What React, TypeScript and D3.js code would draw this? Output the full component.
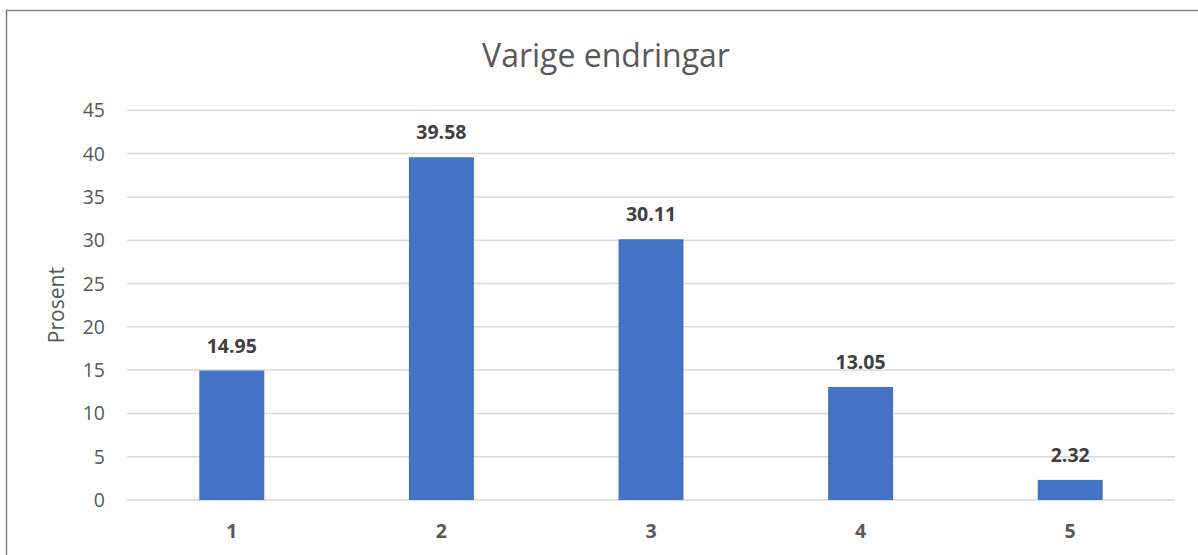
import React from "react";
import * as d3 from "d3";

const categories = ["1", "2", "3", "4", "5"];
const values = [14.95, 39.58, 30.11, 13.05, 2.32];
const yTicks = [0, 5, 10, 15, 20, 25, 30, 35, 40, 45];
const title = "Varige endringar";
const yLabel = "Prosent";

const W = 1198;
const H = 555;
const FONT = "'Open Sans', 'Noto Sans', sans-serif";

export default function App() {
  const left = 127;
  const right = 1175;
  const top = 110.3;
  const bottom = 500;

  const x = d3.scaleBand<string>().domain(categories).range([left, right]).paddingInner(0.69).paddingOuter(0.345);
  const y = d3.scaleLinear().domain([0, 45]).range([bottom, top]);

  return (
    <svg width={W} height={H} style={{ position: "absolute", left: 0, top: 0, background: "#fff" }}>
      <rect x={6.5} y={10.5} width={1250} height={600} fill="#fff" stroke="#808080" strokeWidth={1.5} />
      <text x={606} y={67} textAnchor="middle" fontFamily={FONT} fontSize={32} fill="#595959">
        {title}
      </text>
      {yTicks.map((t) => (
        <g key={t}>
          <line x1={left} x2={right} y1={y(t)} y2={y(t)} stroke="#d9d9d9" strokeWidth={1.5} />
          <text x={105} y={y(t)} dy="0.36em" textAnchor="end" fontFamily={FONT} fontSize={19.5} fill="#595959">
            {t}
          </text>
        </g>
      ))}
      <text
        transform={`translate(64,${(top + bottom) / 2}) rotate(-90)`}
        textAnchor="middle"
        fontFamily={FONT}
        fontSize={21}
        fill="#595959"
      >
        {yLabel}
      </text>
      {categories.map((c, i) => {
        const bx = x(c)!;
        const bw = x.bandwidth();
        return (
          <g key={c}>
            <rect x={bx} y={y(values[i])} width={bw} height={bottom - y(values[i])} fill="#4472c4" />
            <text
              x={bx + bw / 2}
              y={y(values[i]) - 18}
              textAnchor="middle"
              fontFamily={FONT}
              fontSize={19.5}
              fontWeight="bold"
              fill="#404040"
            >
              {values[i].toFixed(2)}
            </text>
            <text
              x={bx + bw / 2}
              y={538}
              textAnchor="middle"
              fontFamily={FONT}
              fontSize={19.5}
              fontWeight="bold"
              fill="#595959"
            >
              {c}
            </text>
          </g>
        );
      })}
    </svg>
  );
}
